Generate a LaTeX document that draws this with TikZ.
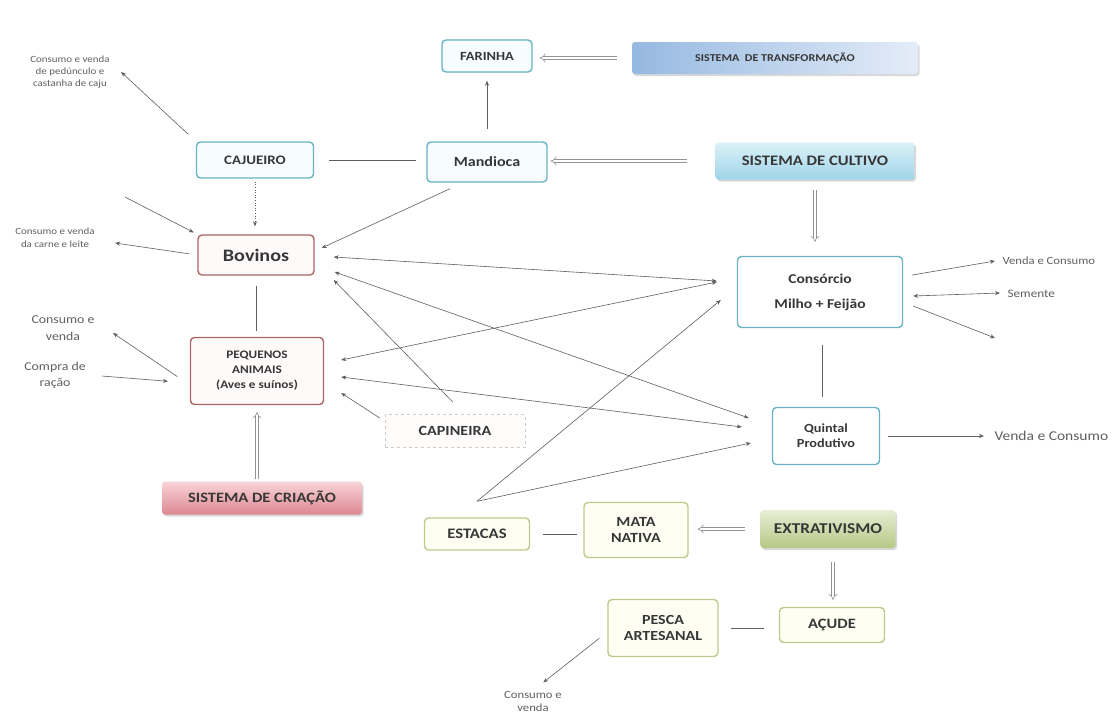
\documentclass[tikz,border=0pt]{standalone}
\usepackage{fontspec}
\setmainfont{Carlito}[FakeStretch=1.15]
\usetikzlibrary{arrows.meta,shadows}

\definecolor{cultline}{RGB}{105,178,195}
\definecolor{criline}{RGB}{172,100,100}
\definecolor{extrline}{RGB}{190,202,140}
\definecolor{boxtext}{RGB}{55,55,55}
\definecolor{flowgray}{RGB}{95,95,95}

\begin{document}
\begin{tikzpicture}[x=1pt,y=-1pt]
    \tikzset{
        cultbox/.style={draw=cultline, line width=1.4pt, rounded corners=4pt, fill=cyan!3, text=boxtext, align=center, inner sep=2pt},
        cribox/.style={cultbox, draw=criline, fill=red!2},
        extrbox/.style={cultbox, draw=extrline, fill=yellow!5},
        sysbox/.style={rounded corners=3pt, text=boxtext, align=center, drop shadow={shadow xshift=1.5pt, shadow yshift=-2pt, opacity=0.3}},
        flow/.style={-{Stealth[length=5pt,width=4pt]}, draw=flowgray, line width=0.6pt},
        bothflow/.style={flow, {Stealth[length=5pt,width=4pt]}-{Stealth[length=5pt,width=4pt]}},
        link/.style={draw=flowgray, line width=0.7pt},
        hollow/.style={draw=gray!85, line width=0.6pt, double=white, double distance=2.6pt, -{Implies}},
        note/.style={text=gray!75!black, align=center}
    }
    \fill[white] (0,0) rectangle (1114,713);
    \useasboundingbox (0,0) rectangle (1114,713);
    \node[cultbox, minimum width=90pt, minimum height=32pt, font=\bfseries\fontsize{12.5}{14}\selectfont] (farinha) at (487,56) {FARINHA};
    \node[sysbox, left color={rgb,255:red,150;green,185;blue,225}, right color={rgb,255:red,228;green,236;blue,248}, minimum width=286pt, minimum height=32pt, font=\bfseries\fontsize{10.5}{12}\selectfont] (transf) at (775,58) {SISTEMA~ DE TRANSFORMAÇÃO};
    \node[cultbox, minimum width=117pt, minimum height=36pt, font=\bfseries\fontsize{13}{15}\selectfont] (cajueiro) at (255,160) {CAJUEIRO};
    \node[cultbox, minimum width=120pt, minimum height=40pt, font=\bfseries\fontsize{14}{16}\selectfont] (mandioca) at (487,162) {Mandioca};
    \node[sysbox, top color={rgb,255:red,218;green,241;blue,248}, bottom color={rgb,255:red,160;green,212;blue,232}, minimum width=199pt, minimum height=37pt, font=\bfseries\fontsize{14.5}{16}\selectfont] (cultivo) at (815,161) {SISTEMA DE CULTIVO};
    \node[cribox, minimum width=116pt, minimum height=40pt, font=\bfseries\fontsize{17.5}{19}\selectfont] (bovinos) at (256,255) {Bovinos};
    \node[cribox, minimum width=133pt, minimum height=67pt, font=\bfseries\fontsize{11.5}{15}\selectfont] (pequenos) at (257,371) {PEQUENOS\\ANIMAIS\\(Aves e suínos)};
    \node[sysbox, top color={rgb,255:red,248;green,212;blue,216}, bottom color={rgb,255:red,222;green,135;blue,145}, minimum width=200pt, minimum height=33pt, font=\bfseries\fontsize{14.3}{16}\selectfont] (criacao) at (262,498) {SISTEMA DE CRIAÇÃO};
    \node[draw=gray!40, dashed, fill=red!1, text=boxtext, minimum width=140pt, minimum height=33pt, font=\bfseries\fontsize{14}{16}\selectfont] (capineira) at (455,431) {CAPINEIRA};
    \node[cultbox, minimum width=165pt, minimum height=71pt, fill=white, font=\bfseries\fontsize{13.5}{15}\selectfont] (consorcio) at (820,292) {Consórcio\\[10pt]Milho + Feijão};
    \node[cultbox, minimum width=107pt, minimum height=57pt, fill=white, font=\bfseries\fontsize{12.4}{15}\selectfont] (quintal) at (826,436) {Quintal\\Produtivo};
    \node[extrbox, minimum width=105pt, minimum height=32pt, font=\bfseries\fontsize{14.5}{16}\selectfont] (estacas) at (477,534) {ESTACAS};
    \node[extrbox, minimum width=104pt, minimum height=55pt, font=\bfseries\fontsize{14}{16}\selectfont] (mata) at (636,530) {MATA\\NATIVA};
    \node[sysbox, top color={rgb,255:red,232;green,238;blue,212}, bottom color={rgb,255:red,182;green,200;blue,135}, minimum width=135pt, minimum height=38pt, font=\bfseries\fontsize{15}{17}\selectfont] (extrat) at (828,529) {EXTRATIVISMO};
    \node[extrbox, minimum width=105pt, minimum height=35pt, font=\bfseries\fontsize{14.3}{16}\selectfont] (acude) at (832,625) {AÇUDE};
    \node[extrbox, minimum width=110pt, minimum height=57pt, font=\bfseries\fontsize{13.9}{16}\selectfont] (pesca) at (663,628) {PESCA\\ARTESANAL};
    \node[note, font=\fontsize{9.5}{12}\selectfont] (caju) at (70,72) {Consumo e venda\\de pedúnculo e\\castanha de caju};
    \node[note, font=\fontsize{9.5}{13}\selectfont] (carne) at (55,238) {Consumo e venda\\da carne e leite};
    \node[note, font=\fontsize{12}{17}\selectfont] (consumo) at (63,328) {Consumo e\\venda};
    \node[note, font=\fontsize{12}{16}\selectfont] (racao) at (55,375) {Compra de\\ração};
    \node[note, font=\fontsize{11}{13}\selectfont, anchor=west] (venda) at (999,261) {Venda e Consumo};
    \node[note, font=\fontsize{11.5}{13}\selectfont, anchor=west] (semente) at (1004,294) {Semente};
    \node[note, font=\fontsize{13.5}{15}\selectfont, anchor=west] (vendaq) at (991,436) {Venda e Consumo};
    \node[note, font=\fontsize{11}{13}\selectfont] (pescado) at (533,701) {Consumo e\\venda};
    \coordinate (bovfree) at (125,197);
    \coordinate (consfree) at (995,338);
    \draw[hollow, shorten <=15pt, shorten >=7pt] (transf.west) -- (transf.west -| farinha.east);
    \draw[flow, shorten <=12pt, shorten >=8pt] (mandioca.north) -- (farinha.south);
    \draw[link, shorten <=15pt, shorten >=10pt] (cajueiro.east) -- (mandioca.west |- cajueiro.east);
    \draw[hollow, shorten <=28pt, shorten >=3pt] (cultivo.west) -- (cultivo.west -| mandioca.east);
    \draw[hollow, shorten <=10pt, shorten >=14pt] (cultivo.south) -- (cultivo.south |- consorcio.north);
    \draw[flow, dotted, shorten <=3pt, shorten >=8pt] (cajueiro.south) -- (cajueiro.south |- bovinos.north);
    \draw[flow, shorten <=10pt] (cajueiro.north west) -- ([xshift=8pt]caju.east);
    \draw[flow, shorten >=4pt] (bovfree) -- (bovinos.north west);
    \draw[flow, shorten <=8pt] (bovinos.west) -- ([xshift=17pt,yshift=-5pt]carne.east);
    \draw[link, shorten <=10pt, shorten >=6pt] (bovinos.south) -- (bovinos.south |- pequenos.north);
    \draw[flow, shorten <=15pt] ([yshift=-14pt]pequenos.west) -- ([xshift=15pt,yshift=-5pt]consumo.east);
    \draw[flow, shorten <=13pt, shorten >=22pt] (racao.east) -- ([yshift=-12pt]pequenos.west);
    \draw[hollow, shorten <=2pt, shorten >=7pt] (criacao.north -| pequenos.south) -- (pequenos.south);
    \draw[flow] ([xshift=-37pt,yshift=-6pt]mandioca.south) -- ([xshift=7pt,yshift=7pt]bovinos.east);
    \draw[bothflow] ([xshift=-20pt,yshift=11pt]consorcio.west) -- ([xshift=19pt,yshift=-2pt]bovinos.east);
    \draw[bothflow] ([xshift=-23pt,yshift=18pt]quintal.west) -- ([xshift=20pt,yshift=-17pt]bovinos.east);
    \draw[flow] ([xshift=-2pt,yshift=12pt]capineira.north) -- ([xshift=19pt,yshift=-25pt]bovinos.east);
    \draw[bothflow] ([xshift=-20pt,yshift=10pt]consorcio.west) -- ([xshift=17pt,yshift=11pt]pequenos.east);
    \draw[bothflow] ([xshift=-30pt,yshift=9pt]quintal.west) -- ([xshift=17pt,yshift=-6pt]pequenos.east);
    \draw[flow] ([xshift=-5pt,yshift=13pt]capineira.west) -- ([xshift=17pt,yshift=-22pt]pequenos.east);
    \draw[flow] ([yshift=16pt]estacas.north) -- ([xshift=-16pt,yshift=-8pt]consorcio.west);
    \draw[flow] ([yshift=16pt]estacas.north) -- ([xshift=-21pt,yshift=-7pt]quintal.west);
    \draw[link, shorten <=17pt, shorten >=10pt] ([xshift=2pt]consorcio.south) -- ([xshift=2pt]consorcio.south |- quintal.north);
    \draw[flow] ([xshift=9pt,yshift=17pt]consorcio.east) -- ([xshift=-4pt]venda.west);
    \draw[bothflow] ([xshift=10pt,yshift=-4pt]consorcio.east) -- ([xshift=-4pt,yshift=1pt]semente.west);
    \draw[flow] ([xshift=10pt,yshift=-14pt]consorcio.east) -- (consfree);
    \draw[flow, shorten <=8pt, shorten >=7pt] (quintal.east) -- (quintal.east -| vendaq.west);
    \draw[link, shorten <=13pt, shorten >=6pt] (estacas.east) -- (estacas.east -| mata.west);
    \draw[hollow, shorten <=15pt, shorten >=9pt] (extrat.west) -- (extrat.west -| mata.east);
    \draw[hollow, shorten <=14pt, shorten >=7pt] ([xshift=5pt]extrat.south) -- ([xshift=5pt]extrat.south |- acude.north);
    \draw[link, shorten <=12pt, shorten >=15pt] (pesca.east) -- (pesca.east -| acude.west);
    \draw[flow, shorten <=10pt, shorten >=8pt] ([yshift=-4pt]pesca.west) -- ([xshift=4pt]pescado.north);
\end{tikzpicture}
\end{document}
